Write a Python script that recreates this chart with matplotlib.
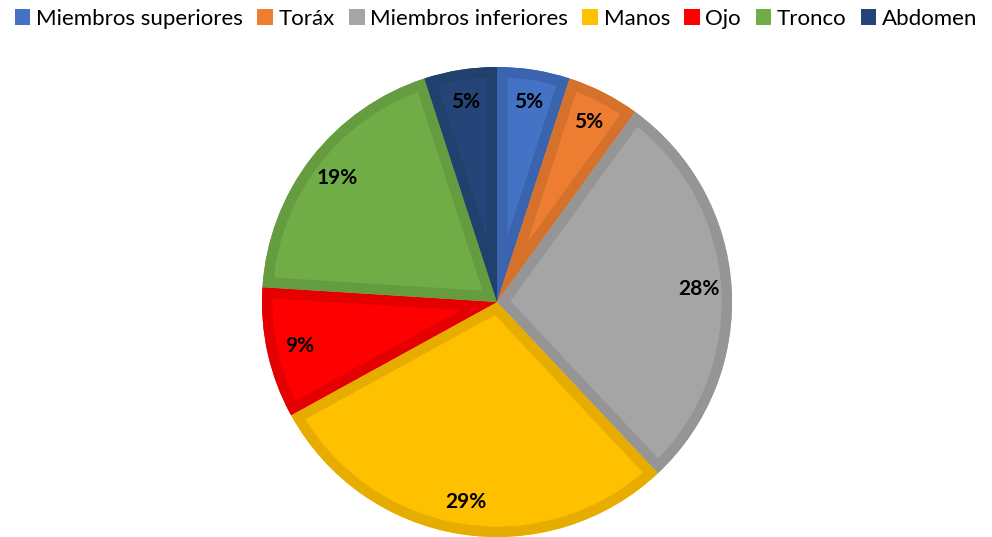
import matplotlib
matplotlib.use("Agg")
import matplotlib.pyplot as plt
from matplotlib.patches import Wedge, Patch

categories = ["Miembros superiores", "Toráx", "Miembros inferiores", "Manos", "Ojo", "Tronco", "Abdomen"]
values = [5, 5, 28, 29, 9, 19, 5]
fill_colors = ["#4472C4", "#ED7D31", "#A5A5A5", "#FFC000", "#FF0000", "#70AD47", "#264478"]
edge_colors = ["#3B64AE", "#D6712B", "#959595", "#E6AD00", "#E40000", "#659C40", "#21406E"]

plt.rcParams['font.family'] = ['Lato', 'DejaVu Sans']

fig = plt.figure(figsize=(9.92, 5.37), dpi=100)
cx, cy, r = 497, 302, 235
W, H = 992, 537
ax = fig.add_axes([(cx - r) / W, (H - cy - r) / H, 2 * r / W, 2 * r / H])

wedges, texts, autotexts = ax.pie(
    values, colors=fill_colors, startangle=90, counterclock=False,
    autopct=lambda p: f"{p:.0f}%", pctdistance=0.86,
    wedgeprops=dict(linewidth=0),
    textprops=dict(fontsize=15, fontweight='bold', color='black'))
ax.set_xlim(-1, 1)
ax.set_ylim(-1, 1)
ax.set_aspect('equal')
for w in wedges:
    w.set_clip_on(False)

for w, ec in zip(wedges, edge_colors):
    b = Wedge(w.center, w.r, w.theta1, w.theta2, facecolor='none',
              edgecolor=ec, linewidth=15, zorder=w.get_zorder() + 0.1)
    ax.add_patch(b)
    b.set_clip_path(w)
for t in autotexts:
    t.set_zorder(5)

handles = [Patch(facecolor=c, edgecolor='none') for c in fill_colors]
fig.legend(handles, categories, loc='upper center', bbox_to_anchor=(0.5, 1.008),
           ncol=7, frameon=False, fontsize=16, handlelength=0.7, handleheight=0.7,
           handletextpad=0.25, columnspacing=0.65, borderaxespad=0.2)

fig.savefig("out.png", dpi=100)
